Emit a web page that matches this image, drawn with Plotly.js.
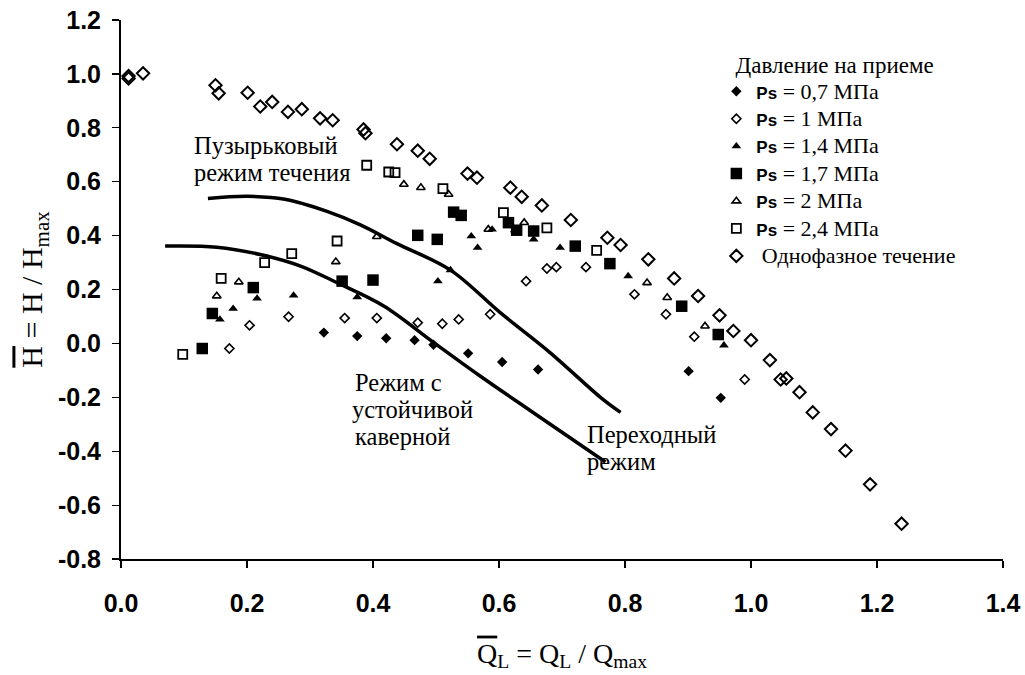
<!DOCTYPE html>
<html>
<head>
<meta charset="utf-8">
<script src="https://cdn.plot.ly/plotly-3.0.1.min.js"></script>
<style>
  html, body { margin: 0; padding: 0; background: #ffffff; }
  #chart { width: 1025px; height: 675px; }
</style>
</head>
<body>
<div id="chart"></div>
<script>
// ---- Data ----
// Ps = 0,7 МПа (filled diamonds)
const p07_x = [0.322, 0.375, 0.421, 0.466, 0.496, 0.551, 0.605, 0.662, 0.901, 0.952];
const p07_y = [0.040, 0.027, 0.019, 0.012, -0.005, -0.037, -0.069, -0.097, -0.103, -0.202];

// Ps = 1 МПа (small open diamonds)
const p1_x = [0.172, 0.204, 0.266, 0.355, 0.406, 0.471, 0.510, 0.536, 0.586, 0.643, 0.676, 0.691, 0.738, 0.815, 0.865, 0.910, 0.990];
const p1_y = [-0.019, 0.067, 0.099, 0.094, 0.094, 0.077, 0.073, 0.089, 0.108, 0.231, 0.278, 0.283, 0.283, 0.182, 0.108, 0.025, -0.134];

// Ps = 1,4 МПа (filled triangles)
const p14_x = [0.157, 0.178, 0.216, 0.274, 0.375, 0.503, 0.523, 0.556, 0.566, 0.589, 0.625, 0.655, 0.697, 0.805, 0.957];
const p14_y = [0.089, 0.129, 0.167, 0.178, 0.172, 0.231, 0.272, 0.398, 0.355, 0.423, 0.420, 0.386, 0.355, 0.250, -0.007];

// Ps = 1,7 МПа (filled squares)
const p17_x = [0.129, 0.145, 0.210, 0.351, 0.400, 0.471, 0.502, 0.528, 0.540, 0.615, 0.628, 0.655, 0.721, 0.776, 0.890, 0.948];
const p17_y = [-0.019, 0.111, 0.207, 0.231, 0.235, 0.401, 0.386, 0.487, 0.475, 0.448, 0.420, 0.417, 0.361, 0.296, 0.138, 0.033];

// Ps = 2 МПа (open triangles)
const p2_x = [0.152, 0.187, 0.341, 0.406, 0.449, 0.476, 0.520, 0.583, 0.640, 0.835, 0.867, 0.927];
const p2_y = [0.176, 0.228, 0.303, 0.396, 0.590, 0.578, 0.553, 0.423, 0.448, 0.225, 0.170, 0.064];

// Ps = 2,4 МПа (open squares)
const p24_x = [0.098, 0.159, 0.228, 0.271, 0.343, 0.390, 0.425, 0.435, 0.511, 0.607, 0.676, 0.755];
const p24_y = [-0.041, 0.241, 0.300, 0.333, 0.380, 0.661, 0.636, 0.634, 0.574, 0.485, 0.429, 0.345];

// Однофазное течение (large open diamonds)
const sp_x = [0.012, 0.012, 0.035, 0.150, 0.155, 0.201, 0.221, 0.240, 0.265, 0.287, 0.316, 0.336, 0.385, 0.388, 0.438,
              0.471, 0.490, 0.550, 0.565, 0.618, 0.636, 0.668, 0.714, 0.772, 0.793, 0.837, 0.878, 0.916, 0.950, 0.972,
              1.000, 1.030, 1.047, 1.056, 1.077, 1.098, 1.127, 1.150, 1.189, 1.239];
const sp_y = [0.992, 0.983, 1.002, 0.958, 0.928, 0.930, 0.879, 0.896, 0.859, 0.869, 0.835, 0.828, 0.794, 0.780, 0.739,
              0.715, 0.685, 0.630, 0.615, 0.578, 0.544, 0.512, 0.458, 0.392, 0.365, 0.312, 0.241, 0.176, 0.104, 0.046,
              0.012, -0.062, -0.134, -0.130, -0.181, -0.256, -0.318, -0.398, -0.523, -0.669];

// Regime boundary curves
const bubbly_x = [0.138, 0.20, 0.26, 0.327, 0.38, 0.438, 0.523, 0.602, 0.681, 0.761, 0.793];
const bubbly_y = [0.538, 0.546, 0.535, 0.490, 0.440, 0.370, 0.272, 0.114, -0.034, -0.200, -0.256];
const cavern_x = [0.070, 0.152, 0.221, 0.285, 0.343, 0.417, 0.496, 0.570, 0.650, 0.769];
const cavern_y = [0.361, 0.357, 0.330, 0.287, 0.225, 0.139, 0.004, -0.121, -0.250, -0.440];

// Tick labels
const xTickVals = [0, 0.2, 0.4, 0.6, 0.8, 1.0, 1.2, 1.4];
const xTickText = ['0.0', '0.2', '0.4', '0.6', '0.8', '1.0', '1.2', '1.4'];
const yTickVals = [-0.8, -0.6, -0.4, -0.2, 0, 0.2, 0.4, 0.6, 0.8, 1.0, 1.2];
const yTickText = ['-0.8', '-0.6', '-0.4', '-0.2', '0.0', '0.2', '0.4', '0.6', '0.8', '1.0', '1.2'];

const legendTitle = 'Давление на приеме';
const seriesNames = ['0,7 МПа', '1 МПа', '1,4 МПа', '1,7 МПа', '2 МПа', '2,4 МПа'];
const singlePhaseName = 'Однофазное течение';
// Regime labels: each line with its anchor (x, y in data units)
const regimeLines = ['Пузырьковый', 'режим течения', 'Режим с', 'устойчивой', 'каверной', 'Переходный', 'режим'];
const regimeX = [0.1127, 0.1127, 0.369, 0.364, 0.369, 0.737, 0.737];
const regimeY = [0.735, 0.635, -0.145, -0.245, -0.345, -0.338, -0.438];

// ---- Styles ----
const SERIF = '"Liberation Serif", "Times New Roman", serif';
const SANS = '"Liberation Sans", Arial, sans-serif';
const psName = n => '<span style="font-family:' + "'Liberation Sans'" +
  ';font-weight:bold;font-size:17px">Ps</span><span style="font-size:22px"> = ' + n + '</span>';

const traces = [
  {x: p07_x, y: p07_y, name: psName(seriesNames[0]), mode: 'markers', type: 'scatter',
   marker: {symbol: 'diamond', size: 8, color: '#000'}},
  {x: p1_x, y: p1_y, name: psName(seriesNames[1]), mode: 'markers', type: 'scatter',
   marker: {symbol: 'diamond-open', size: 7, color: '#000', line: {width: 1.6, color: '#000'}}},
  {x: p14_x, y: p14_y, name: psName(seriesNames[2]), mode: 'markers', type: 'scatter',
   marker: {symbol: 'triangle-up', size: 8.5, color: '#000'}},
  {x: p17_x, y: p17_y, name: psName(seriesNames[3]), mode: 'markers', type: 'scatter',
   marker: {symbol: 'square', size: 11.5, color: '#000'}},
  {x: p2_x, y: p2_y, name: psName(seriesNames[4]), mode: 'markers', type: 'scatter',
   marker: {symbol: 'triangle-up-open', size: 7.5, color: '#000', line: {width: 1.6, color: '#000'}}},
  {x: p24_x, y: p24_y, name: psName(seriesNames[5]), mode: 'markers', type: 'scatter',
   marker: {symbol: 'square-open', size: 9, color: '#000', line: {width: 1.8, color: '#000'}}},
  {x: sp_x, y: sp_y, name: '<span style="font-size:22px">\u00a0' + singlePhaseName + '</span>', mode: 'markers', type: 'scatter',
   marker: {symbol: 'diamond-open', size: 9.5, color: '#000', line: {width: 2, color: '#000'}}},
  {x: bubbly_x, y: bubbly_y, mode: 'lines', type: 'scatter', showlegend: false, hoverinfo: 'skip',
   line: {color: '#000', width: 3.5, shape: 'spline', smoothing: 1}},
  {x: cavern_x, y: cavern_y, mode: 'lines', type: 'scatter', showlegend: false, hoverinfo: 'skip',
   line: {color: '#000', width: 3.5, shape: 'spline', smoothing: 1}}
];

const axisCommon = {
  showline: true, linecolor: '#000', linewidth: 2, mirror: false,
  ticks: 'outside', ticklen: 7, tickwidth: 1.2, tickcolor: '#000',
  showgrid: false, zeroline: false, tickmode: 'array',
  tickfont: {family: SANS, size: 25, color: '#000', weight: 'bold'}
};

const layout = {
  width: 1025, height: 675,
  margin: {l: 121, r: 22, t: 20, b: 116},
  paper_bgcolor: '#fff', plot_bgcolor: '#fff',
  showlegend: true,
  xaxis: Object.assign({}, axisCommon, {
    range: [0, 1.4], tickvals: xTickVals, ticktext: xTickText, ticklabelstandoff: 14,
    title: {text: '<span style="text-decoration:overline">Q</span><sub>L</sub> = Q<sub>L</sub> / Q<sub>max</sub>',
            font: {family: SERIF, size: 28, color: '#000'}, standoff: 27}
  }),
  yaxis: Object.assign({}, axisCommon, {
    range: [-0.8, 1.2], tickvals: yTickVals, ticktext: yTickText, ticklabelstandoff: 6,
    title: {text: '<span style="text-decoration:overline">H</span> = H / H<sub>max</sub>',
            font: {family: SERIF, size: 30, color: '#000'}, standoff: 6}
  }),
  legend: {
    x: 0.675, y: 0.958, xanchor: 'left', yanchor: 'top',
    bgcolor: 'rgba(0,0,0,0)', borderwidth: 0,
    font: {family: SERIF, size: 18.8, color: '#000'},
    title: {text: '\u00a0\u00a0\u00a0' + legendTitle, font: {family: SERIF, size: 23, color: '#000'}},
    tracegroupgap: 0, itemwidth: 30
  },
  annotations: regimeLines.map((t, i) => ({
    x: regimeX[i], y: regimeY[i], xref: 'x', yref: 'y', text: t, showarrow: false,
    xanchor: 'left', yanchor: 'middle', align: 'left',
    font: {family: SERIF, size: 24.5, color: '#000'}
  }))
};

Plotly.newPlot('chart', traces, layout, {displayModeBar: false, staticPlot: true});
</script>
</body>
</html>
